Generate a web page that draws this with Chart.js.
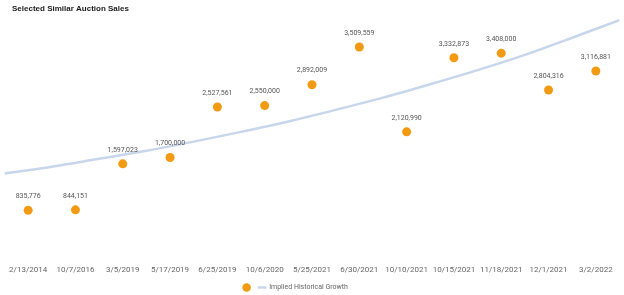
<!DOCTYPE html>
<html>
<head>
<meta charset="utf-8">
<script src="https://cdn.jsdelivr.net/npm/chart.js@4.4.1/dist/chart.umd.min.js"></script>
<style>
  html, body { margin: 0; padding: 0; background: #fff; }
  #wrap { width: 624px; height: 295px; position: relative; }
</style>
</head>
<body>
<div id="wrap"><canvas id="salesChart"></canvas></div>
<script>
    const saleDates = ['2/13/2014', '10/7/2016', '3/5/2019', '5/17/2019', '6/25/2019', '10/6/2020',
        '5/25/2021', '6/30/2021', '10/10/2021', '10/15/2021', '11/18/2021', '12/1/2021', '3/2/2022'];
    const salePrices = [835776, 844151, 1597023, 1700000, 2527561, 2550000,
        2892009, 3509559, 2120990, 3332873, 3408000, 2804316, 3116881];

    // trend line, read at the category edges (index -0.5 ... 12.5)
    const trendIndex = [-0.5, 0.5, 1.5, 2.5, 3.5, 4.5, 5.5, 6.5, 7.5, 8.5, 9.5, 10.5, 11.5, 12.5];
    const trendValues = [1440000, 1550000, 1680000, 1810000, 1960000, 2120000, 2290000,
        2480000, 2680000, 2900000, 3130000, 3380000, 3660000, 3950000];

    const chartTitle = 'Selected Similar Auction Sales';
    const trendLabel = 'Implied Historical Growth';

    // draws the bold title at the top left
    const titlePlugin = {
        id: 'leftTitle',
        afterDraw(chart) {
            const c = chart.ctx;
            c.save();
            c.font = 'bold 8px "Liberation Sans", Arial, sans-serif';
            c.fillStyle = '#1a1a1a';
            c.textAlign = 'left';
            c.textBaseline = 'middle';
            c.fillText(chartTitle, 12, 9);
            c.restore();
        }
    };

    // legend sits a bit left of centre in the original
    const legendShift = {
        id: 'legendShift',
        afterLayout(chart) {
            chart.legend.right -= 34;
        }
    };

    // value labels above each sale point
    const valueLabels = {
        id: 'valueLabels',
        afterDatasetsDraw(chart) {
            const c = chart.ctx;
            const meta = chart.getDatasetMeta(0);
            c.save();
            c.font = '7px Roboto, sans-serif';
            c.fillStyle = '#555';
            c.textAlign = 'center';
            c.textBaseline = 'middle';
            meta.data.forEach((pt, i) => {
                c.fillText(salePrices[i].toLocaleString('en-US'), pt.x, pt.y - 14);
            });
            c.restore();
        }
    };

    const ctx = document.getElementById('salesChart').getContext('2d');
    const salesChart = new Chart(ctx, {
        type: 'line',
        data: {
            labels: saleDates,
            datasets: [{
                label: '',
                data: salePrices,
                showLine: false,
                pointRadius: 4.5,
                pointHoverRadius: 4.5,
                pointStyle: 'circle',
                backgroundColor: '#F29B12',
                borderColor: '#F29B12',
                borderWidth: 0,
                xAxisID: 'x',
                order: 1
            }, {
                label: trendLabel,
                data: trendIndex.map((v, i) => ({ x: v, y: trendValues[i] })),
                borderColor: '#C8D6EB',
                backgroundColor: '#C8D6EB',
                borderWidth: 2.5,
                pointRadius: 0,
                pointStyle: 'line',
                cubicInterpolationMode: 'monotone',
                xAxisID: 'x2',
                order: 2
            }]
        },
        options: {
            responsive: true,
            maintainAspectRatio: false,
            animation: false,
            layout: { padding: { top: 17, left: 3, right: 2, bottom: -6 } },
            scales: {
                x: {
                    type: 'category',
                    offset: true,
                    grid: { display: false, drawTicks: false },
                    border: { display: false },
                    ticks: {
                        color: '#666',
                        font: { family: 'Roboto, sans-serif', size: 8 },
                        padding: 4,
                        maxRotation: 0,
                        autoSkip: false
                    }
                },
                x2: {
                    type: 'linear',
                    display: false,
                    min: -0.5,
                    max: 12.5
                },
                y: {
                    display: false,
                    min: 0,
                    max: 4000000
                }
            },
            plugins: {
                title: { display: false },
                tooltip: { enabled: false },
                legend: {
                    position: 'bottom',
                    labels: {
                        usePointStyle: true,
                        boxHeight: 6,
                        color: '#666',
                        font: { family: 'Roboto, sans-serif', size: 7 },
                        padding: 5
                    }
                }
            }
        },
        plugins: [titlePlugin, valueLabels, legendShift]
    });
</script>
</body>
</html>
